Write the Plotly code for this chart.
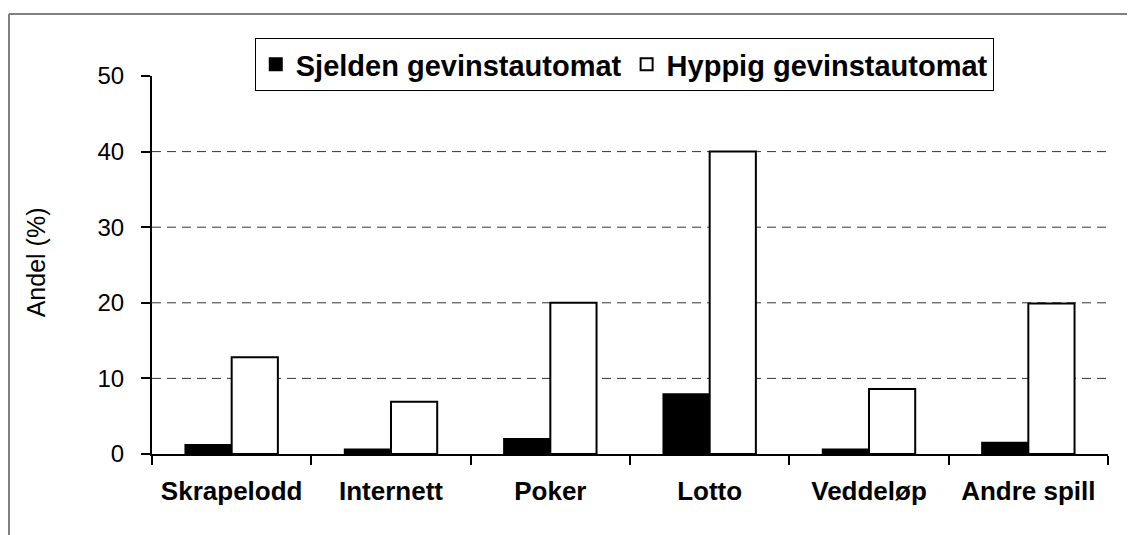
import plotly.graph_objects as go

categories = ["Skrapelodd", "Internett", "Poker", "Lotto", "Veddeløp", "Andre spill"]
sjelden = [1.2, 0.6, 2.0, 7.9, 0.6, 1.5]
hyppig = [12.8, 6.9, 20.0, 40.0, 8.6, 19.9]
series_names = ["Sjelden gevinstautomat", "Hyppig gevinstautomat"]
y_ticks = [0, 10, 20, 30, 40, 50]
y_title = "Andel (%)"

FONT = "Arial, Liberation Sans, sans-serif"

fig = go.Figure()
fig.add_trace(go.Bar(x=categories, y=sjelden, name=series_names[0],
                     marker=dict(color="black", line=dict(color="black", width=2))))
fig.add_trace(go.Bar(x=categories, y=hyppig, name=series_names[1],
                     marker=dict(color="white", line=dict(color="black", width=2))))

shapes = []
for v in y_ticks[1:-1]:
    shapes.append(dict(type="line", xref="paper", yref="y", x0=0, x1=1, y0=v, y1=v,
                       line=dict(color="#333333", width=1, dash="9px,6px"), layer="below"))
# outer chart frame: only its top and left edges fall inside the picture
frame = dict(color="#808080", width=2)
shapes.append(dict(type="line", xref="paper", yref="paper",
                   x0=-0.1496, x1=1.2, y0=1.164, y1=1.164, line=frame))
shapes.append(dict(type="line", xref="paper", yref="paper",
                   x0=-0.1496, x1=-0.1496, y0=1.164, y1=-0.4, line=frame))

fig.update_layout(
    width=1127, height=527,
    margin=dict(l=144, r=27, t=68, b=81),
    paper_bgcolor="white", plot_bgcolor="white",
    barmode="group", bargap=0.42, bargroupgap=0,
    font=dict(family=FONT, color="black"),
    showlegend=True,
    legend=dict(orientation="h", x=0.494, xanchor="center", y=1.1005, yanchor="top",
                bordercolor="black", borderwidth=1, bgcolor="white",
                font=dict(size=29, family=FONT, weight="bold"),
                itemwidth=30, tracegroupgap=0),
    xaxis=dict(type="category", tickson="boundaries", ticks="outside", ticklen=9,
               tickwidth=2, tickcolor="black", showline=True, linecolor="black",
               linewidth=2, showgrid=False, ticklabelstandoff=13,
               tickfont=dict(size=26, family=FONT, weight="bold")),
    yaxis=dict(range=[0, 50], tickvals=y_ticks, ticks="outside", ticklen=9, tickwidth=2,
               tickcolor="black", showline=True, linecolor="black", linewidth=2,
               showgrid=False, zeroline=False, ticklabelstandoff=12,
               tickfont=dict(size=24, family=FONT)),
    shapes=shapes,
    annotations=[dict(text=y_title, xref="paper", yref="paper", x=-0.121, y=0.508,
                      textangle=-90, showarrow=False, font=dict(size=25, family=FONT),
                      xanchor="center", yanchor="middle")],
)

fig.write_html("out.html")
